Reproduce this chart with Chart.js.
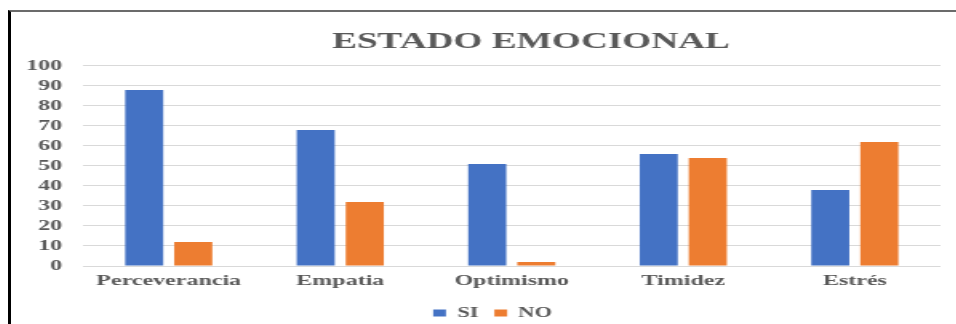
<!DOCTYPE html>
<html>
<head>
<meta charset="utf-8">
<script src="https://cdn.jsdelivr.net/npm/chart.js@4/dist/chart.umd.min.js"></script>
<style>
  html, body { margin: 0; padding: 0; background: #fff; overflow: hidden; }
  body { width: 956px; height: 324px; position: relative; }
  #frame {
    position: absolute; left: 8px; top: 10px; right: -4px; bottom: -4px;
    border-left: 3px solid #000; border-top: 2px solid #6b6b6b;
  }
  /* chart is laid out narrow and stretched sideways */
  #wrap {
    position: absolute; left: 11px; top: 12px;
    width: 591px; height: 318px;
    transform: scaleX(1.6); transform-origin: 0 0;
  }
</style>
</head>
<body>
<div id="frame"></div>
<div id="wrap"><canvas id="estado-emocional"></canvas></div>
<script>
const categories = ["Perceverancia", "Empatia", "Optimismo", "Timidez", "Estrés"];
const si = [88, 68, 51, 56, 38];
const no = [12, 32, 2, 54, 62];
const yTicks = [0, 10, 20, 30, 40, 50, 60, 70, 80, 90, 100];

const serif = "'Liberation Serif', 'Times New Roman', serif";
const grey = "#595959";

// move title and legend to their own centres after layout
const nudge = {
  id: "nudge",
  afterLayout(chart) {
    const shift = (box, cx) => {
      if (!box) return;
      const dx = cx - (box.left + box.right) / 2;
      box.left += dx;
      box.right += dx;
    };
    shift(chart.titleBlock, 325);
    shift(chart.legend, 301);
  },
};

const ChartEstado = document.getElementById("estado-emocional");

new Chart(ChartEstado, {
  type: "bar",
  data: {
    labels: categories,
    datasets: [
      {
        label: "SI",
        data: si,
        backgroundColor: "#4472C4",
        categoryPercentage: 0.572,
        barPercentage: 0.776,
      },
      {
        label: "NO",
        data: no,
        backgroundColor: "#ED7D31",
        categoryPercentage: 0.572,
        barPercentage: 0.776,
      },
    ],
  },
  options: {
    maintainAspectRatio: false,
    responsive: true,
    animation: false,
    layout: {
      padding: { left: 9, right: 10, top: 0, bottom: 0 },
    },
    scales: {
      x: {
        grid: { display: false, drawTicks: false },
        border: { display: false },
        ticks: {
          color: grey,
          padding: 9,
          font: { family: serif, size: 15, weight: "bold", lineHeight: 0.8 },
        },
      },
      y: {
        min: 0,
        max: 100,
        afterBuildTicks: (scale) => {
          scale.ticks = yTicks.map((v) => ({ value: v }));
        },
        afterFit: (scale) => {
          scale.width = 36;
        },
        grid: { color: "#D9D9D9", lineWidth: 1, drawTicks: false },
        border: { display: false },
        ticks: {
          color: grey,
          padding: 13,
          autoSkip: false,
          font: { family: serif, size: 15, weight: "bold" },
        },
      },
    },
    plugins: {
      title: {
        display: true,
        text: "ESTADO EMOCIONAL",
        color: grey,
        font: { family: serif, size: 23.3, weight: "bold" },
        padding: { top: 16, bottom: 10 },
      },
      legend: {
        position: "bottom",
        labels: {
          color: grey,
          boxWidth: 8,
          boxHeight: 7,
          padding: 10,
          font: { family: serif, size: 14, weight: "bold" },
        },
      },
      tooltip: { enabled: false },
    },
  },
  plugins: [nudge],
});
</script>
</body>
</html>
